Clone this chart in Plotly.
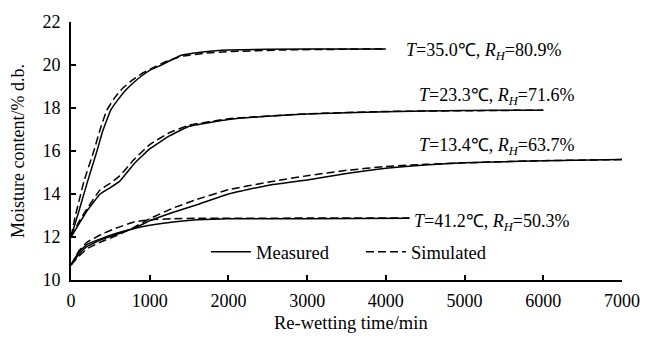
import plotly.graph_objects as go

# ---- data ----
labels = ["<i>T</i>=35.0℃, <i>R</i><sub><i>H</i></sub>=80.9%",
          "<i>T</i>=23.3℃, <i>R</i><sub><i>H</i></sub>=71.6%",
          "<i>T</i>=13.4℃, <i>R</i><sub><i>H</i></sub>=63.7%",
          "<i>T</i>=41.2℃, <i>R</i><sub><i>H</i></sub>=50.3%"]

t1_meas = [0, 100, 212, 330, 400, 505, 600, 700, 800, 900, 1000, 1150, 1400, 1700, 2000, 3000, 4000]
m1_meas = [12.0, 13.2, 14.6, 16.0, 16.9, 17.9, 18.4, 18.85, 19.2, 19.5, 19.75, 20.0, 20.45, 20.62, 20.7, 20.75, 20.75]
t1_sim = [0, 50, 165, 290, 370, 455, 550, 650, 755, 900, 1000, 1200, 1400, 1700, 2000, 2700, 4000]
m1_sim = [12.0, 12.9, 14.6, 16.0, 17.0, 17.9, 18.45, 18.9, 19.23, 19.6, 19.8, 20.15, 20.4, 20.55, 20.62, 20.7, 20.75]

t2_meas = [0, 100, 200, 370, 500, 620, 800, 1000, 1250, 1500, 2000, 2500, 3000, 4000, 5000, 6000]
m2_meas = [12.0, 12.6, 13.2, 14.0, 14.3, 14.6, 15.4, 16.1, 16.7, 17.15, 17.47, 17.62, 17.72, 17.83, 17.88, 17.9]
t2_sim = [0, 100, 200, 370, 500, 620, 800, 1000, 1250, 1500, 2000, 3000, 4000, 6000]
m2_sim = [12.0, 12.7, 13.3, 14.2, 14.5, 14.85, 15.6, 16.3, 16.85, 17.2, 17.5, 17.73, 17.84, 17.9]

t3_meas = [0, 100, 200, 400, 600, 800, 1000, 1300, 1600, 2000, 2500, 3000, 3500, 4000, 4500, 5000, 6000, 7000]
m3_meas = [10.7, 11.2, 11.55, 11.9, 12.15, 12.4, 12.75, 13.15, 13.5, 14.0, 14.4, 14.65, 14.95, 15.2, 15.35, 15.45, 15.55, 15.6]
t3_sim = [0, 100, 200, 400, 600, 800, 1000, 1300, 1600, 2000, 2500, 3000, 3500, 4000, 4500, 5000, 6000, 7000]
m3_sim = [10.7, 11.1, 11.45, 11.8, 12.1, 12.45, 12.85, 13.35, 13.75, 14.2, 14.55, 14.85, 15.1, 15.28, 15.38, 15.45, 15.55, 15.6]

t4_meas = [0, 100, 200, 400, 600, 800, 1000, 1300, 1600, 2000, 3000, 4300]
m4_meas = [10.7, 11.3, 11.65, 11.95, 12.2, 12.4, 12.55, 12.7, 12.8, 12.85, 12.85, 12.87]
t4_sim = [0, 100, 200, 400, 600, 800, 1000, 1300, 1600, 2000, 3000, 4300]
m4_sim = [10.7, 11.35, 11.75, 12.15, 12.45, 12.7, 12.8, 12.85, 12.87, 12.87, 12.88, 12.88]

x_ticks = [0, 1000, 2000, 3000, 4000, 5000, 6000, 7000]
y_ticks = [10, 12, 14, 16, 18, 20, 22]

label_pos = [(4230, 20.62), (4400, 18.55), (4400, 16.23), (4330, 12.66)]

FONT = "Liberation Serif"
DASH = "8px,4px"

fig = go.Figure()
series = [(t1_meas, m1_meas, t1_sim, m1_sim), (t2_meas, m2_meas, t2_sim, m2_sim),
          (t3_meas, m3_meas, t3_sim, m3_sim), (t4_meas, m4_meas, t4_sim, m4_sim)]
for i, (tm, mm, ts, ms) in enumerate(series):
    fig.add_trace(go.Scatter(x=tm, y=mm, mode="lines", name="Measured",
                             line=dict(color="black", width=1.5, shape="spline", smoothing=0.3),
                             showlegend=(i == 0)))
for i, (tm, mm, ts, ms) in enumerate(series):
    fig.add_trace(go.Scatter(x=ts, y=ms, mode="lines", name="Simulated",
                             line=dict(color="black", width=1.5, dash=DASH, shape="spline", smoothing=0.3),
                             showlegend=(i == 0)))

for lab, (lx, ly) in zip(labels, label_pos):
    fig.add_annotation(x=lx, y=ly, text=lab, showarrow=False, xanchor="left", yanchor="middle",
                       font=dict(family=FONT, size=18, color="black"))

fig.add_annotation(x=0.5 + 5 / 561, y=-(323 - 280) / 260, xref="paper", yref="paper",
                   text="Re-wetting time/min", showarrow=False, xanchor="center", yanchor="middle",
                   font=dict(family=FONT, size=18.5, color="black"))

fig.update_layout(
    width=652, height=350,
    margin=dict(l=71, r=20, t=20, b=70),
    paper_bgcolor="white", plot_bgcolor="white",
    font=dict(family=FONT, size=18, color="black"),
    legend=dict(orientation="h", x=0.245, y=0.108, xanchor="left", yanchor="middle",
                bgcolor="rgba(0,0,0,0)", font=dict(family=FONT, size=18.5),
                entrywidth=100, entrywidthmode="pixels", itemwidth=40),
    xaxis=dict(range=[0, 7000], tickvals=x_ticks, showgrid=False, zeroline=False,
               showline=True, linecolor="black", linewidth=2, ticks="inside", ticklen=5,
               tickwidth=2, tickcolor="black", tickfont=dict(family=FONT, size=18),
               ticklabelstandoff=3),
    yaxis=dict(range=[10, 22], tickvals=y_ticks, showgrid=False, zeroline=False,
               showline=True, linecolor="black", linewidth=2, ticks="inside", ticklen=5,
               tickwidth=2, tickcolor="black", tickfont=dict(family=FONT, size=18),
               ticklabelstandoff=5,
               title=dict(text="Moisture content/% d.b.", font=dict(family=FONT, size=18), standoff=13)),
)

fig.write_html("out.html", config={"displayModeBar": False},
               post_script="document.body.style.margin='0';document.body.style.padding='0';")
